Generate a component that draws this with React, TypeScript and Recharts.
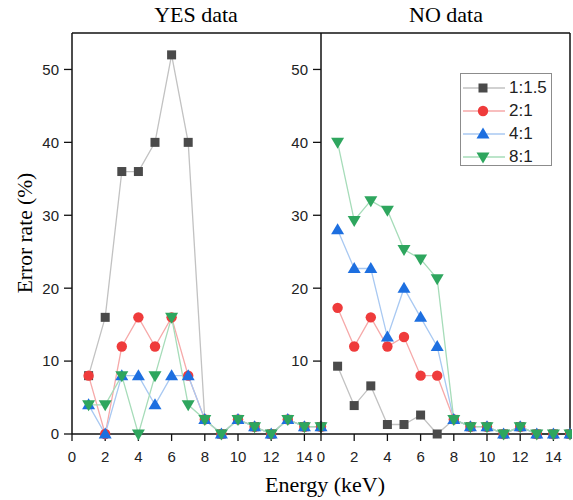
// Error rate vs energy — two panels (YES / NO data)
import { LineChart, Line, XAxis, YAxis, ReferenceLine, Legend } from 'recharts'

const energy = [1, 2, 3, 4, 5, 6, 7, 8, 9, 10, 11, 12, 13, 14, 15]

// YES data
const yes_1_15 = [8, 16, 36, 36, 40, 52, 40, 2, 0, 2, 1, 0, 2, 1, 1]
const yes_2_1 = [8, 0, 12, 16, 12, 16, 8, 2, 0, 2, 1, 0, 2, 1, 1]
const yes_4_1 = [4, 0, 8, 8, 4, 8, 8, 2, 0, 2, 1, 0, 2, 1, 1]
const yes_8_1 = [4, 4, 8, 0, 8, 16, 4, 2, 0, 2, 1, 0, 2, 1, 1]

// NO data
const no_1_15 = [9.3, 3.9, 6.6, 1.3, 1.3, 2.6, 0, 2, 1, 1, 0, 1, 0, 0, 0]
const no_2_1 = [17.3, 12, 16, 12, 13.3, 8, 8, 2, 1, 1, 0, 1, 0, 0, 0]
const no_4_1 = [28, 22.7, 22.7, 13.3, 20, 16, 12, 2, 1, 1, 0, 1, 0, 0, 0]
const no_8_1 = [40, 29.3, 32, 30.7, 25.3, 24, 21.3, 2, 1, 1, 0, 1, 0, 0, 0]

const xTicks = [0, 2, 4, 6, 8, 10, 12, 14]
const yTicksLeft = [0, 10, 20, 30, 40, 50]
const yTicksRight = [10, 20, 30, 40, 50]

type Shape = 'square' | 'circle' | 'up' | 'down'

const series: { key: string; name: string; line: string; fill: string; shape: Shape }[] = [
  { key: 's1', name: '1:1.5', line: '#c2c2c2', fill: '#4a4a4a', shape: 'square' },
  { key: 's2', name: '2:1', line: '#f6a9a9', fill: '#ef3b3b', shape: 'circle' },
  { key: 's4', name: '4:1', line: '#a9c9f2', fill: '#1d6fe0', shape: 'up' },
  { key: 's8', name: '8:1', line: '#a6dcb9', fill: '#2ea65e', shape: 'down' },
]

const build = (a: number[], b: number[], c: number[], d: number[]) =>
  energy.map((e, i) => ({ e, s1: a[i], s2: b[i], s4: c[i], s8: d[i] }))

const yesData = build(yes_1_15, yes_2_1, yes_4_1, yes_8_1)
const noData = build(no_1_15, no_2_1, no_4_1, no_8_1)

function Marker({ cx, cy, shape, fill }: { cx: number; cy: number; shape: Shape; fill: string }) {
  if (shape === 'square') return <rect x={cx - 4.5} y={cy - 4.5} width={9} height={9} fill={fill} />
  if (shape === 'circle') return <circle cx={cx} cy={cy} r={5.2} fill={fill} />
  if (shape === 'up')
    return <polygon points={`${cx},${cy - 6.5} ${cx - 6.5},${cy + 4.5} ${cx + 6.5},${cy + 4.5}`} fill={fill} />
  return <polygon points={`${cx - 6.5},${cy - 4.5} ${cx + 6.5},${cy - 4.5} ${cx},${cy + 6.5}`} fill={fill} />
}

const tickStyle = { fontSize: 15, fill: '#222', fontFamily: '"Liberation Sans", Arial, sans-serif' }
const serif = '"Liberation Serif", "Times New Roman", serif'

function LegendBox() {
  return (
    <div
      style={{
        width: 92,
        height: 93,
        border: '1.5px solid #8c8c8c',
        background: '#fff',
        boxSizing: 'border-box',
        paddingTop: 2,
        fontFamily: '"Liberation Sans", Arial, sans-serif',
        fontSize: 17,
        color: '#222',
      }}
    >
      {series.map(s => (
        <div key={s.key} style={{ display: 'flex', alignItems: 'center', height: 23 }}>
          <svg width={48} height={20}>
            <line x1={2} y1={10} x2={44} y2={10} stroke={s.line} strokeWidth={1.3} />
            <Marker cx={22} cy={10} shape={s.shape} fill={s.fill} />
          </svg>
          <span>{s.name}</span>
        </div>
      ))}
    </div>
  )
}

function Panel({
  data,
  yTicks,
  right,
  legend,
}: {
  data: Record<string, number>[]
  yTicks: number[]
  right: number
  legend?: boolean
}) {
  return (
    <LineChart width={72 + 249 + right} height={500} data={data} margin={{ top: 33, right, bottom: 36, left: 0 }}>
      <XAxis
        dataKey="e"
        type="number"
        domain={[0, 15]}
        ticks={xTicks}
        height={30}
        tickSize={7}
        tickMargin={10}
        tick={tickStyle}
        axisLine={{ stroke: '#111', strokeWidth: 1.5 }}
        tickLine={{ stroke: '#111', strokeWidth: 1.3 }}
      />
      <YAxis
        type="number"
        domain={[0, 55]}
        ticks={yTicks}
        width={72}
        tickSize={8}
        tickMargin={5}
        tick={tickStyle}
        axisLine={{ stroke: '#111', strokeWidth: 1.5 }}
        tickLine={{ stroke: '#111', strokeWidth: 1.3 }}
      />
      <ReferenceLine y={55} stroke="#111" strokeWidth={1.5} />
      {legend && <ReferenceLine x={15} stroke="#111" strokeWidth={1.5} />}
      {series.map(s => (
        <Line
          key={s.key}
          dataKey={s.key}
          name={s.name}
          stroke={s.line}
          strokeWidth={1.3}
          isAnimationActive={false}
          activeDot={false}
          dot={(p: any) => (
            <Marker key={`${s.key}-${p.index}`} cx={p.cx} cy={p.cy} shape={s.shape} fill={s.fill} />
          )}
        />
      ))}
      {legend && (
        <Legend
          layout="horizontal"
          verticalAlign="middle"
          align="center"
          content={() => <LegendBox />}
          wrapperStyle={{ left: 211, top: 73, width: 92, height: 93 }}
        />
      )}
    </LineChart>
  )
}

export default function App() {
  return (
    <div style={{ position: 'absolute', left: 0, top: 0, width: 573, height: 500, background: '#fff' }}>
      <div style={{ position: 'absolute', left: 0, top: 0 }}>
        <Panel data={yesData} yTicks={yTicksLeft} right={9} />
      </div>
      <div style={{ position: 'absolute', left: 249, top: 0 }}>
        <Panel data={noData} yTicks={yTicksRight} right={2} legend />
      </div>
      <div style={{ position: 'absolute', left: 106, width: 180, top: 2, textAlign: 'center', fontFamily: serif, fontSize: 22 }}>
        YES data
      </div>
      <div style={{ position: 'absolute', left: 356, width: 180, top: 2, textAlign: 'center', fontFamily: serif, fontSize: 22 }}>
        NO data
      </div>
      <div style={{ position: 'absolute', left: 225, width: 200, top: 472, textAlign: 'center', fontFamily: serif, fontSize: 22 }}>
        Energy (keV)
      </div>
      <div
        style={{
          position: 'absolute',
          left: 25,
          top: 233,
          transform: 'translate(-50%, -50%) rotate(-90deg)',
          whiteSpace: 'nowrap',
          fontFamily: serif,
          fontSize: 21.5,
        }}
      >
        Error rate (%)
      </div>
    </div>
  )
}
